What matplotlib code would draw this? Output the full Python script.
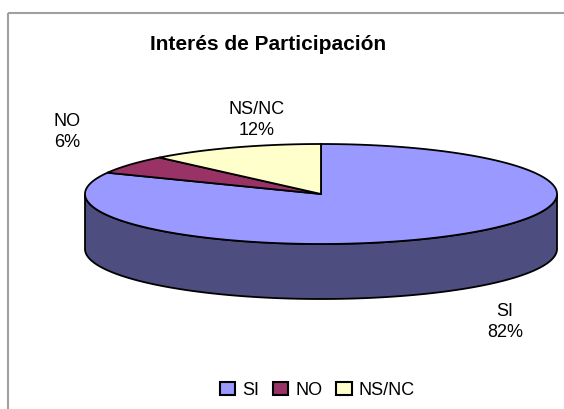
import numpy as np
import matplotlib
matplotlib.use("Agg")
import matplotlib.pyplot as plt
from matplotlib.patches import Polygon, Rectangle, Patch

plt.rcParams['font.family'] = ['Liberation Sans', 'DejaVu Sans']

title = "Interés de Participación"
labels = ["SI", "NO", "NS/NC"]
values = [82, 6, 12]
colors = ["#9999FF", "#993366", "#FFFFCC"]
side_colors = ["#4D4D80", "#4D1A33", "#808066"]

# pie geometry in pixel space
cx, cy = 321, 195
rx, ry = 236, 50
depth = 55

fig = plt.figure(figsize=(5.64, 4.10), dpi=100)
ax = fig.add_axes([0, 0, 1, 1])
ax.set_xlim(0, 564)
ax.set_ylim(410, 0)
ax.axis("off")

# chart area border
ax.add_patch(Rectangle((7.5, 13.5), 700, 500, fill=False, edgecolor="#A0A0A0", lw=1.5))


def pt(t, dy=0):
    return cx + rx * np.cos(t), cy - ry * np.sin(t) + dy


# slice angles: start at 12 o'clock, go clockwise
fracs = np.array(values) / sum(values)
starts = np.pi / 2 - 2 * np.pi * np.concatenate([[0], np.cumsum(fracs)[:-1]])
ends = starts - 2 * np.pi * fracs

# side walls (front half only)
for s, e, sc in zip(starts, ends, side_colors):
    t = np.linspace(s, e, 400)
    vis = np.sin(t) <= 0
    if not vis.any():
        continue
    tv = t[vis]
    top = [pt(a) for a in tv]
    bot = [pt(a, depth) for a in tv[::-1]]
    ax.add_patch(Polygon(top + bot, closed=True, facecolor=sc, edgecolor="black", lw=1.3, zorder=2))

# top faces
for s, e, c in zip(starts, ends, colors):
    t = np.linspace(s, e, 400)
    verts = [(cx, cy)] + [pt(a) for a in t]
    ax.add_patch(Polygon(verts, closed=True, facecolor=c, edgecolor="black", lw=1.3, zorder=3,
                         joinstyle="miter"))

# data labels
label_pos = {"SI": (505, 322), "NO": (67, 132), "NS/NC": (257, 120)}
for lab, v in zip(labels, values):
    x, y = label_pos[lab]
    ax.text(x, y, f"{lab}\n{v}%", ha="center", va="center", fontsize=13, linespacing=1.25)

ax.text(268, 45, title, ha="center", va="center", fontsize=15, fontweight="bold")

handles = [Patch(facecolor=c, edgecolor="black", lw=1.5) for c in colors]
ax.legend(handles, labels, loc="center", bbox_to_anchor=(317.5, 391), bbox_transform=ax.transData,
          ncol=3, frameon=False, fontsize=13, handlelength=0.85, handleheight=0.75,
          handletextpad=0.4, columnspacing=0.75, borderpad=0)

fig.savefig("out.png", dpi=100)
